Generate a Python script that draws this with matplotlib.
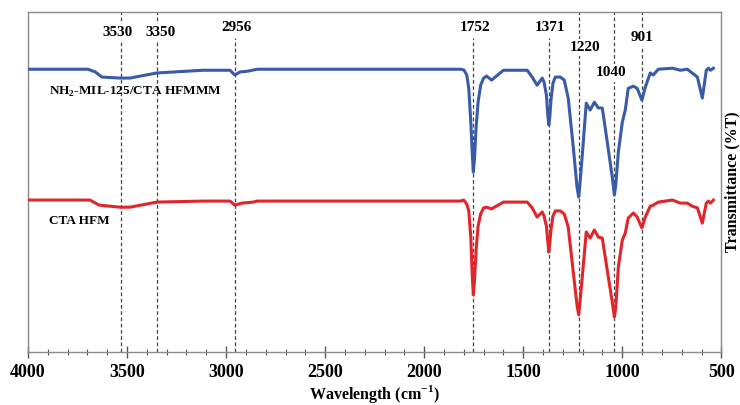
import matplotlib
matplotlib.use("Agg")
import matplotlib.pyplot as plt
from matplotlib.ticker import MultipleLocator

# ---- data ----
blue_w = [4000, 3697, 3660, 3627, 3535, 3485, 3350, 3116, 2980, 2956, 2930, 2894, 2843, 2500, 2200,
          1818, 1800, 1785, 1775, 1765, 1757, 1752, 1746, 1738, 1728, 1715, 1700, 1685, 1660, 1600,
          1480, 1455, 1430, 1404, 1395, 1383, 1376, 1371, 1366, 1360, 1350, 1338, 1313, 1293, 1273,
          1247, 1228, 1220, 1213, 1202, 1182, 1162, 1141, 1121, 1101, 1076, 1050, 1040, 1033, 1020,
          1000, 985, 970, 944, 925, 901, 884, 859, 844, 818, 747, 707, 672, 647, 621, 596, 576,
          565, 555, 540]
blue_t = [83.2, 83.2, 82.4, 80.9, 80.6, 80.6, 82.1, 82.9, 82.9, 81.5, 82.4, 82.6, 83.2, 83.2, 83.2,
          83.2, 83.0, 81.5, 77.6, 68.0, 58.0, 52.9, 57.0, 66.0, 73.5, 78.5, 80.6, 81.2, 80.0, 82.9,
          82.9, 80.9, 78.5, 80.6, 79.4, 75.6, 69.7, 66.8, 69.1, 74.1, 79.1, 80.9, 80.9, 80.0, 74.7,
          60.0, 48.2, 45.6, 50.0, 57.9, 73.2, 71.2, 73.5, 71.8, 71.8, 61.8, 51.2, 46.2, 49.1, 58.8,
          67.6, 71.2, 77.6, 78.2, 77.6, 74.1, 77.9, 82.1, 81.5, 83.2, 83.5, 82.9, 83.2, 82.1, 80.9,
          74.7, 82.9, 83.5, 82.9, 83.5]

red_w = [4000, 3687, 3640, 3535, 3485, 3350, 3116, 2980, 2956, 2920, 2864, 2843, 1818, 1800, 1785,
         1775, 1765, 1757, 1752, 1746, 1738, 1728, 1715, 1700, 1685, 1660, 1600, 1480, 1455, 1430,
         1404, 1395, 1383, 1376, 1371, 1366, 1360, 1350, 1338, 1313, 1293, 1273, 1247, 1228, 1220,
         1213, 1202, 1182, 1162, 1141, 1121, 1101, 1076, 1050, 1040, 1033, 1020, 1000, 985, 970,
         944, 925, 901, 884, 859, 844, 818, 747, 707, 672, 647, 621, 596, 576, 565, 555, 540]
red_t = [44.7, 44.7, 43.2, 42.6, 42.6, 44.1, 44.4, 44.4, 43.2, 43.8, 44.1, 44.4, 44.4, 44.7, 43.5,
         41.5, 34.0, 22.0, 16.8, 21.0, 30.0, 37.0, 40.6, 42.4, 42.6, 42.1, 44.1, 44.1, 42.4, 39.7,
         41.2, 40.0, 37.0, 32.5, 29.4, 32.0, 36.0, 40.0, 41.5, 41.5, 40.6, 36.8, 23.2, 13.5, 10.9,
         15.0, 22.1, 35.3, 33.5, 35.9, 33.8, 33.5, 24.1, 14.4, 10.3, 13.0, 25.0, 32.9, 35.0, 39.4,
         40.9, 39.7, 36.5, 39.7, 42.9, 43.2, 44.1, 44.7, 43.8, 43.8, 42.9, 42.4, 37.9, 43.8, 44.4,
         43.8, 44.7]

peaks = [3530, 3350, 2956, 1752, 1371, 1220, 1040, 901]
peak_labels = ["3530", "3350", "2956", "1752", "1371", "1220", "1040", "901"]
label_w = [3550, 3333, 2945, 1742, 1364, 1187, 1055, 899]
label_y = [0.941, 0.941, 0.956, 0.956, 0.956, 0.897, 0.821, 0.926]
line_top = [1.0, 1.0, 0.924, 0.924, 0.924, 1.0, 1.0, 1.0]

series_names = ["NH$_2$-MIL-125/CTA HFMMM", "CTA HFM"]

# ---- figure ----
serif = ["Liberation Serif", "DejaVu Serif"]
plt.rcParams["mathtext.fontset"] = "custom"
plt.rcParams["mathtext.rm"] = "Liberation Serif:bold"
plt.rcParams["mathtext.bf"] = "Liberation Serif:bold"
fig = plt.figure(figsize=(7.4, 4.05), dpi=100)
ax = fig.add_axes([0.0378, 0.131, 0.937, 0.839])

for w, top in zip(peaks, line_top):
    ax.axvline(w, ymin=0, ymax=top, color="#444444", lw=0.9, ls=(0, (3, 2)), zorder=1)

ax.plot(blue_w, blue_t, color="#3a5ba8", lw=2.2, solid_joinstyle="round", zorder=3)
ax.plot(red_w, red_t, color="#e0262a", lw=2.2, solid_joinstyle="round", zorder=3)

for lab, w, y in zip(peak_labels, label_w, label_y):
    ax.text(w, y, lab, transform=ax.get_xaxis_transform(), ha="center", va="center",
            fontsize=11, fontweight="bold", family=serif, zorder=5,
            bbox=dict(facecolor="white", edgecolor="none", pad=1.5))

ax.text(3895, 76.5, series_names[0], ha="left", va="center", fontsize=9.5,
        fontweight="bold", family=serif, zorder=5)
ax.text(3895, 38.5, series_names[1], ha="left", va="center", fontsize=9.5,
        fontweight="bold", family=serif, zorder=5)

ax.set_xlim(4000, 500)
ax.set_ylim(0, 100)
ax.xaxis.set_major_locator(MultipleLocator(500))
ax.xaxis.set_minor_locator(MultipleLocator(100))
ax.tick_params(axis="x", which="major", direction="inout", length=8, width=1.0,
               color="#555555", labelsize=13, pad=5)
ax.tick_params(axis="x", which="minor", direction="inout", length=4, width=0.8, color="#555555")
ax.set_yticks([])
for lab in ax.get_xticklabels():
    lab.set_fontweight("bold")
    lab.set_family(serif)
for s in ax.spines.values():
    s.set_color("#8a8a8a")
    s.set_linewidth(1.0)

ax.set_xlabel("Wavelength (cm$^{-1}$)", fontsize=11.5, fontweight="bold",
              family=serif, labelpad=1)
ax.yaxis.set_label_position("right")
ax.set_ylabel("Transmittance (%T)", fontsize=11.5, fontweight="bold", family=serif,
              labelpad=2)

fig.savefig("out.png", dpi=100)
